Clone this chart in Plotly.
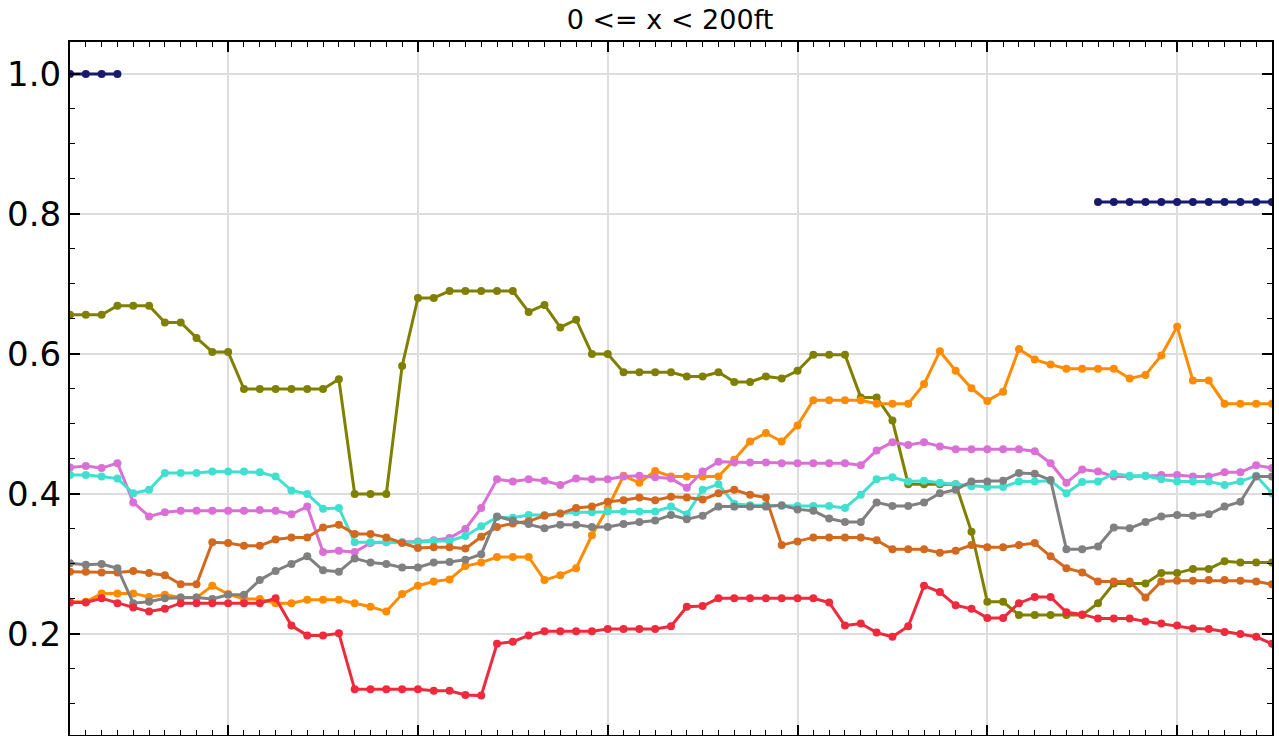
import plotly.graph_objects as go

# x positions (sample index along the record)
sample_index = list(range(77))

navy_vals = [1.0, 1.0, 1.0, 1.0] + [None] * 61 + [0.817] * 12

olive_vals = [0.656, 0.656, 0.656, 0.669, 0.669, 0.669, 0.645, 0.645, 0.623, 0.603,
              0.603, 0.550, 0.550, 0.550, 0.550, 0.550, 0.550, 0.564, 0.400, 0.400,
              0.400, 0.583, 0.680, 0.680, 0.690, 0.690, 0.690, 0.690, 0.690, 0.660,
              0.670, 0.638, 0.649, 0.600, 0.600, 0.574, 0.574, 0.574, 0.574, 0.568,
              0.568, 0.574, 0.560, 0.560, 0.568, 0.565, 0.576, 0.599, 0.599, 0.599,
              0.538, 0.538, 0.505, 0.414, 0.414, 0.414, 0.414, 0.346, 0.246, 0.246,
              0.227, 0.227, 0.227, 0.227, 0.227, 0.244, 0.272, 0.272, 0.272, 0.287,
              0.287, 0.293, 0.293, 0.304, 0.302, 0.302, 0.302]

orange_vals = [0.246, 0.246, 0.258, 0.258, 0.258, 0.253, 0.256, 0.252, 0.252, 0.269,
               0.257, 0.250, 0.250, 0.244, 0.244, 0.249, 0.249, 0.249, 0.244, 0.239,
               0.232, 0.257, 0.269, 0.275, 0.278, 0.297, 0.302, 0.310, 0.310, 0.310,
               0.277, 0.284, 0.294, 0.341, 0.380, 0.426, 0.416, 0.433, 0.425, 0.425,
               0.425, 0.425, 0.449, 0.475, 0.487, 0.475, 0.498, 0.534, 0.534, 0.534,
               0.534, 0.529, 0.529, 0.529, 0.557, 0.604, 0.576, 0.551, 0.533, 0.546,
               0.607, 0.592, 0.585, 0.579, 0.579, 0.579, 0.579, 0.565, 0.570, 0.598,
               0.639, 0.562, 0.562, 0.529, 0.529, 0.529, 0.529]

orchid_vals = [0.438, 0.440, 0.437, 0.444, 0.388, 0.368, 0.374, 0.376, 0.376, 0.376,
               0.376, 0.376, 0.377, 0.376, 0.371, 0.382, 0.317, 0.319, 0.317, 0.330,
               0.331, 0.331, 0.332, 0.334, 0.337, 0.350, 0.380, 0.421, 0.418, 0.421,
               0.419, 0.413, 0.422, 0.421, 0.421, 0.425, 0.426, 0.424, 0.422, 0.409,
               0.432, 0.446, 0.445, 0.445, 0.445, 0.444, 0.444, 0.444, 0.444, 0.444,
               0.441, 0.462, 0.474, 0.470, 0.474, 0.468, 0.464, 0.464, 0.464, 0.464,
               0.464, 0.461, 0.444, 0.416, 0.435, 0.432, 0.425, 0.425, 0.426, 0.427,
               0.427, 0.425, 0.425, 0.431, 0.431, 0.441, 0.437]

turquoise_vals = [0.427, 0.427, 0.425, 0.422, 0.401, 0.406, 0.430, 0.430, 0.430, 0.432,
                  0.432, 0.432, 0.431, 0.425, 0.405, 0.400, 0.379, 0.380, 0.331, 0.331,
                  0.331, 0.331, 0.331, 0.333, 0.333, 0.340, 0.354, 0.367, 0.366, 0.370,
                  0.370, 0.372, 0.374, 0.374, 0.375, 0.375, 0.375, 0.375, 0.382, 0.371,
                  0.406, 0.414, 0.386, 0.384, 0.384, 0.383, 0.383, 0.383, 0.383, 0.380,
                  0.399, 0.421, 0.424, 0.418, 0.419, 0.416, 0.414, 0.411, 0.410, 0.410,
                  0.418, 0.418, 0.419, 0.401, 0.417, 0.418, 0.429, 0.426, 0.426, 0.421,
                  0.418, 0.418, 0.418, 0.413, 0.418, 0.426, 0.401]

chocolate_vals = [0.289, 0.289, 0.288, 0.288, 0.290, 0.287, 0.284, 0.271, 0.271, 0.331,
                  0.330, 0.326, 0.326, 0.335, 0.338, 0.338, 0.352, 0.356, 0.343, 0.343,
                  0.338, 0.330, 0.323, 0.324, 0.324, 0.322, 0.339, 0.353, 0.358, 0.361,
                  0.369, 0.372, 0.380, 0.382, 0.389, 0.391, 0.395, 0.391, 0.396, 0.395,
                  0.392, 0.401, 0.406, 0.399, 0.395, 0.327, 0.332, 0.338, 0.338, 0.338,
                  0.338, 0.334, 0.321, 0.321, 0.321, 0.316, 0.319, 0.327, 0.324, 0.324,
                  0.327, 0.330, 0.311, 0.294, 0.288, 0.275, 0.275, 0.275, 0.252, 0.275,
                  0.276, 0.276, 0.277, 0.277, 0.276, 0.275, 0.271]

gray_vals = [0.301, 0.299, 0.300, 0.294, 0.244, 0.246, 0.251, 0.252, 0.252, 0.250,
             0.256, 0.256, 0.277, 0.290, 0.300, 0.311, 0.291, 0.289, 0.308, 0.302,
             0.300, 0.295, 0.295, 0.302, 0.303, 0.306, 0.314, 0.368, 0.362, 0.357,
             0.351, 0.356, 0.356, 0.353, 0.353, 0.357, 0.360, 0.362, 0.370, 0.364,
             0.369, 0.382, 0.382, 0.382, 0.382, 0.384, 0.378, 0.376, 0.365, 0.360,
             0.360, 0.388, 0.383, 0.383, 0.388, 0.401, 0.406, 0.418, 0.418, 0.419,
             0.430, 0.429, 0.420, 0.321, 0.321, 0.325, 0.352, 0.351, 0.360, 0.368,
             0.370, 0.369, 0.371, 0.382, 0.389, 0.425, 0.425]

red_vals = [0.245, 0.245, 0.251, 0.244, 0.238, 0.232, 0.236, 0.244, 0.244, 0.244,
            0.244, 0.244, 0.244, 0.251, 0.212, 0.198, 0.198, 0.201, 0.121, 0.121,
            0.121, 0.121, 0.121, 0.119, 0.119, 0.113, 0.112, 0.186, 0.189, 0.198,
            0.204, 0.204, 0.204, 0.204, 0.207, 0.207, 0.207, 0.207, 0.211, 0.239,
            0.240, 0.251, 0.251, 0.251, 0.251, 0.251, 0.251, 0.251, 0.245, 0.212,
            0.215, 0.202, 0.196, 0.211, 0.269, 0.260, 0.241, 0.236, 0.223, 0.223,
            0.244, 0.253, 0.253, 0.231, 0.228, 0.222, 0.222, 0.222, 0.218, 0.215,
            0.212, 0.208, 0.207, 0.203, 0.200, 0.196, 0.186]

series = [
    ("navy", navy_vals, "#191970"),
    ("olive", olive_vals, "#808000"),
    ("orange", orange_vals, "#FF8C00"),
    ("orchid", orchid_vals, "#DA70D6"),
    ("turquoise", turquoise_vals, "#40E0D0"),
    ("chocolate", chocolate_vals, "#D2691E"),
    ("gray", gray_vals, "#808080"),
    ("red", red_vals, "#EE2A3C"),
]

major_x_ticks = [10, 22, 34, 46, 58, 70]
y_tick_vals = [0.2, 0.4, 0.6, 0.8, 1.0]
y_tick_text = ["0.2", "0.4", "0.6", "0.8", "1.0"]

fig = go.Figure()
for name, vals, color in series:
    fig.add_trace(go.Scatter(
        x=sample_index, y=vals, name=name, mode="lines+markers",
        line=dict(color=color, width=3),
        marker=dict(color=color, size=8),
        connectgaps=False, showlegend=False,
    ))

W, H = 1279, 736
fig.update_layout(
    width=W, height=H,
    margin=dict(l=70, r=7, t=42, b=1),
    paper_bgcolor="white", plot_bgcolor="white",
    font=dict(family="DejaVu Sans", color="black"),
    title=dict(text="0 <= x < 200ft", x=670 / W, xref="container", xanchor="center",
               y=1 - 20 / H, yref="container", yanchor="middle",
               font=dict(size=27, family="DejaVu Sans", color="black")),
)

fig.update_xaxes(
    range=[0, 76], tickmode="array", tickvals=major_x_ticks, showticklabels=False,
    ticks="inside", ticklen=10, tickwidth=1.5, tickcolor="black",
    showgrid=True, gridcolor="#DDDDDD", gridwidth=1.5, zeroline=False,
    showline=True, linecolor="black", linewidth=2, mirror="ticks",
    minor=dict(tickmode="linear", tick0=0, dtick=1, ticks="inside", ticklen=5,
               tickwidth=1.2, tickcolor="black", showgrid=False),
)

fig.update_yaxes(
    range=[0.0557, 1.0457], tickmode="array", tickvals=y_tick_vals, ticktext=y_tick_text,
    tickfont=dict(size=34, family="DejaVu Sans", color="black"),
    ticks="inside", ticklen=10, tickwidth=1.5, tickcolor="black", ticklabelstandoff=0,
    showgrid=True, gridcolor="#DDDDDD", gridwidth=1.5, zeroline=False,
    showline=True, linecolor="black", linewidth=2, mirror="ticks",
    minor=dict(tickmode="linear", tick0=0, dtick=0.05, ticks="inside", ticklen=5,
               tickwidth=1.2, tickcolor="black", showgrid=False),
)

# remove the browser's default page margin so the figure sits at the window's top-left
fig.write_html("out.html", config={"displayModeBar": False},
               post_script="document.body.style.margin='0';document.body.style.overflow='hidden';")
